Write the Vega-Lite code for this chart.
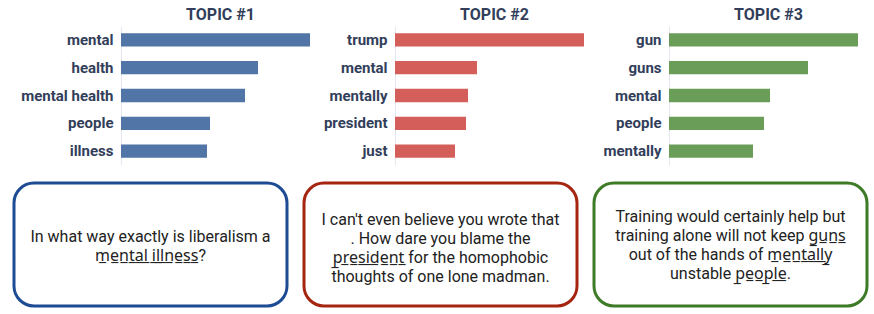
{
  "$schema": "https://vega.github.io/schema/vega-lite/v6.json",
  "background": "white",
  "padding": {"left": 12, "top": 7, "right": 0, "bottom": 0},
  "datasets": {
    "topics": [
      {"topic": "TOPIC #1", "rank": 1, "word": "mental", "score": 189},
      {"topic": "TOPIC #1", "rank": 2, "word": "health", "score": 137},
      {"topic": "TOPIC #1", "rank": 3, "word": "mental health", "score": 124},
      {"topic": "TOPIC #1", "rank": 4, "word": "people", "score": 89},
      {"topic": "TOPIC #1", "rank": 5, "word": "illness", "score": 86},
      {"topic": "TOPIC #2", "rank": 1, "word": "trump", "score": 189},
      {"topic": "TOPIC #2", "rank": 2, "word": "mental", "score": 82},
      {"topic": "TOPIC #2", "rank": 3, "word": "mentally", "score": 73},
      {"topic": "TOPIC #2", "rank": 4, "word": "president", "score": 71},
      {"topic": "TOPIC #2", "rank": 5, "word": "just", "score": 60},
      {"topic": "TOPIC #3", "rank": 1, "word": "gun", "score": 189},
      {"topic": "TOPIC #3", "rank": 2, "word": "guns", "score": 139},
      {"topic": "TOPIC #3", "rank": 3, "word": "mental", "score": 101},
      {"topic": "TOPIC #3", "rank": 4, "word": "people", "score": 95},
      {"topic": "TOPIC #3", "rank": 5, "word": "mentally", "score": 84}
    ],
    "posts": [
      {"topic": "TOPIC #1", "post": "In what way exactly is liberalism a\nm\u0332e\u0332n\u0332t\u0332a\u0332l\u0332 i\u0332l\u0332l\u0332n\u0332e\u0332s\u0332s\u0332?"},
      {"topic": "TOPIC #2", "post": "I can't even believe you wrote that\n. How dare you blame the\np\u0332r\u0332e\u0332s\u0332i\u0332d\u0332e\u0332n\u0332t\u0332 for the homophobic\nthoughts of one lone madman."},
      {"topic": "TOPIC #3", "post": "Training would certainly help but\ntraining alone will not keep g\u0332u\u0332n\u0332s\u0332\nout of the hands of m\u0332e\u0332n\u0332t\u0332a\u0332l\u0332l\u0332y\u0332\nunstable p\u0332e\u0332o\u0332p\u0332l\u0332e\u0332."}
    ]
  },
  "config": {
    "font": "Roboto",
    "title": {"font": "Roboto", "fontSize": 16, "fontWeight": "bold", "color": "#323e5a", "anchor": "middle", "dx": 78, "offset": 3},
    "axis": {"labelFont": "Roboto"}
  },
  "spacing": 16,
  "vconcat": [
    {
      "bounds": "flush",
      "spacing": 17,
      "hconcat": [
        {
          "title": "TOPIC #1",
          "width": 257, "height": 139,
          "view": {"stroke": null},
          "data": {"name": "topics"},
          "transform": [{"filter": "datum.topic === 'TOPIC #1'"}],
          "mark": {"type": "bar", "color": "#5075a6", "clip": false},
          "encoding": {
            "y": {"field": "word", "type": "nominal", "sort": {"field": "rank"}, "title": null,
                  "scale": {"paddingInner": 0.52, "paddingOuter": 0.26},
                  "axis": {"offset": -107, "ticks": false, "labelPadding": 8, "labelFontSize": 15, "labelFontWeight": "bold", "labelColor": "#323e5a", "domainColor": "#e3e8f0", "domainWidth": 1}},
            "x": {"field": "score", "type": "quantitative", "scale": {"domain": [-107, 150]}, "axis": null}
          }
        },
        {
          "title": "TOPIC #2",
          "width": 257, "height": 139,
          "view": {"stroke": null},
          "data": {"name": "topics"},
          "transform": [{"filter": "datum.topic === 'TOPIC #2'"}],
          "mark": {"type": "bar", "color": "#d45f5a", "clip": false},
          "encoding": {
            "y": {"field": "word", "type": "nominal", "sort": {"field": "rank"}, "title": null,
                  "scale": {"paddingInner": 0.52, "paddingOuter": 0.26},
                  "axis": {"offset": -107, "ticks": false, "labelPadding": 8, "labelFontSize": 15, "labelFontWeight": "bold", "labelColor": "#323e5a", "domainColor": "#e3e8f0", "domainWidth": 1}},
            "x": {"field": "score", "type": "quantitative", "scale": {"domain": [-107, 150]}, "axis": null}
          }
        },
        {
          "title": "TOPIC #3",
          "width": 257, "height": 139,
          "view": {"stroke": null},
          "data": {"name": "topics"},
          "transform": [{"filter": "datum.topic === 'TOPIC #3'"}],
          "mark": {"type": "bar", "color": "#6a9e58", "clip": false},
          "encoding": {
            "y": {"field": "word", "type": "nominal", "sort": {"field": "rank"}, "title": null,
                  "scale": {"paddingInner": 0.52, "paddingOuter": 0.26},
                  "axis": {"offset": -107, "ticks": false, "labelPadding": 8, "labelFontSize": 15, "labelFontWeight": "bold", "labelColor": "#323e5a", "domainColor": "#e3e8f0", "domainWidth": 1}},
            "x": {"field": "score", "type": "quantitative", "scale": {"domain": [-107, 150]}, "axis": null}
          }
        }
      ]
    },
    {
      "bounds": "flush",
      "spacing": 17,
      "hconcat": [
        {
          "width": 273, "height": 123,
          "view": {"stroke": "#1d4b94", "strokeWidth": 3, "cornerRadius": 20, "fill": "white"},
          "data": {"name": "posts"},
          "transform": [{"filter": "datum.topic === 'TOPIC #1'"}],
          "mark": {"type": "text", "align": "center", "baseline": "middle", "dy": -8, "lineBreak": "\n", "lineHeight": 19, "fontSize": 16, "font": "Roboto, 'Noto Sans', 'DejaVu Sans'", "color": "#222222"},
          "encoding": {
            "text": {"field": "post", "type": "nominal"},
            "x": {"datum": 0.5, "type": "quantitative", "scale": {"domain": [0, 1]}, "axis": null},
            "y": {"datum": 0.5, "type": "quantitative", "scale": {"domain": [0, 1]}, "axis": null}
          }
        },
        {
          "width": 273, "height": 123,
          "view": {"stroke": "#a52510", "strokeWidth": 3, "cornerRadius": 20, "fill": "white"},
          "data": {"name": "posts"},
          "transform": [{"filter": "datum.topic === 'TOPIC #2'"}],
          "mark": {"type": "text", "align": "center", "baseline": "middle", "dy": -25, "lineBreak": "\n", "lineHeight": 19, "fontSize": 16, "font": "Roboto, 'Noto Sans', 'DejaVu Sans'", "color": "#222222"},
          "encoding": {
            "text": {"field": "post", "type": "nominal"},
            "x": {"datum": 0.5, "type": "quantitative", "scale": {"domain": [0, 1]}, "axis": null},
            "y": {"datum": 0.5, "type": "quantitative", "scale": {"domain": [0, 1]}, "axis": null}
          }
        },
        {
          "width": 273, "height": 123,
          "view": {"stroke": "#3e7b27", "strokeWidth": 3, "cornerRadius": 20, "fill": "white"},
          "data": {"name": "posts"},
          "transform": [{"filter": "datum.topic === 'TOPIC #3'"}],
          "mark": {"type": "text", "align": "center", "baseline": "middle", "dy": -28, "lineBreak": "\n", "lineHeight": 19, "fontSize": 16, "font": "Roboto, 'Noto Sans', 'DejaVu Sans'", "color": "#222222"},
          "encoding": {
            "text": {"field": "post", "type": "nominal"},
            "x": {"datum": 0.5, "type": "quantitative", "scale": {"domain": [0, 1]}, "axis": null},
            "y": {"datum": 0.5, "type": "quantitative", "scale": {"domain": [0, 1]}, "axis": null}
          }
        }
      ]
    }
  ]
}
